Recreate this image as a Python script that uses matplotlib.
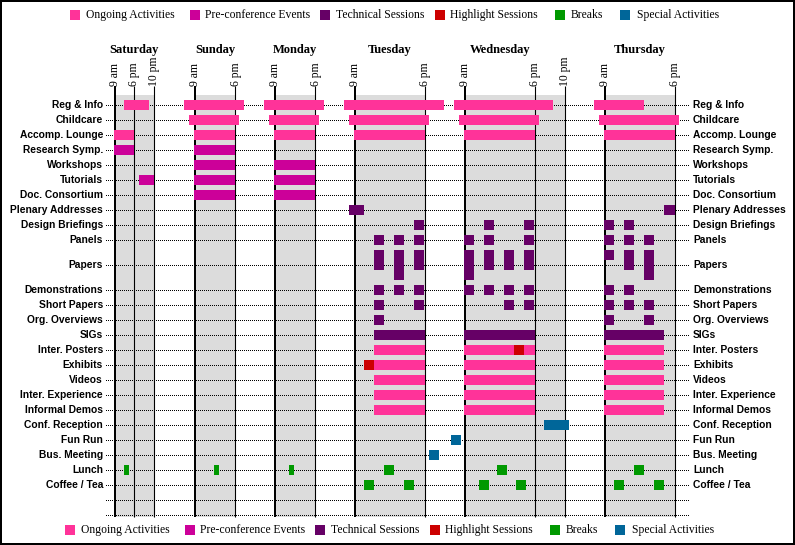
import numpy as np
import matplotlib.pyplot as plt
from matplotlib.patches import Rectangle

# days and their hour ticks
DAYS = ["Saturday", "Sunday", "Monday", "Tuesday", "Wednesday", "Thursday"]
TICK_HOURS = [[9, 18, 22], [9, 18], [9, 18], [9, 18], [9, 18, 22], [9, 18]]
TICK_LABELS = {9: "9 am", 18: "6 pm", 22: "10 pm"}
TITLE_SPAN = [(9, 22), (9, 18), (9, 18), (9, 18), (9, 18), (9, 18)]

# rows (top to bottom); the Papers row is taller
ROWS = ["Reg & Info", "Childcare", "Accomp. Lounge", "Research Symp.", "Workshops",
        "Tutorials", "Doc. Consortium", "Plenary Addresses", "Design Briefings",
        "Panels", "Papers", "Demonstrations", "Short Papers", "Org. Overviews", "SIGs",
        "Inter. Posters", "Exhibits", "Videos", "Inter. Experience", "Informal Demos",
        "Conf. Reception", "Fun Run", "Bus. Meeting", "Lunch", "Coffee / Tea", "", ""]

CATS = ["Ongoing Activities", "Pre-conference Events", "Technical Sessions",
        "Highlight Sessions", "Breaks", "Special Activities"]
COLORS = ["#ff3399", "#cc0099", "#660066", "#cc0000", "#009900", "#006699"]

# (row, day, start hour, end hour)
ongoing = [
    ("Reg & Info", "Saturday", 13.25, 21), ("Reg & Info", "Sunday", 6.5, 20),
    ("Reg & Info", "Monday", 6.5, 20), ("Reg & Info", "Tuesday", 7.6, 20.5),
    ("Reg & Info", "Wednesday", 7.6, 20.5), ("Reg & Info", "Thursday", 7.6, 14),
    ("Childcare", "Sunday", 7.65, 19), ("Childcare", "Monday", 7.65, 19),
    ("Childcare", "Tuesday", 8.2, 18.6), ("Childcare", "Wednesday", 8.2, 18.6),
    ("Childcare", "Thursday", 8.2, 18.6),
    ("Accomp. Lounge", "Saturday", 8.5, 18), ("Accomp. Lounge", "Sunday", 8.75, 18),
    ("Accomp. Lounge", "Monday", 8.75, 18), ("Accomp. Lounge", "Tuesday", 8.9, 18),
    ("Accomp. Lounge", "Wednesday", 8.9, 18), ("Accomp. Lounge", "Thursday", 8.9, 18),
]
for r in ["Inter. Posters", "Exhibits", "Videos", "Inter. Experience", "Informal Demos"]:
    ongoing += [(r, "Tuesday", 11.5, 18), (r, "Wednesday", 8.9, 18), (r, "Thursday", 8.9, 16.6)]

preconf = [
    ("Research Symp.", "Saturday", 8.5, 18), ("Research Symp.", "Sunday", 8.75, 18),
    ("Workshops", "Sunday", 8.75, 18), ("Workshops", "Monday", 8.75, 18),
    ("Tutorials", "Saturday", 19, 22), ("Tutorials", "Sunday", 8.75, 18),
    ("Tutorials", "Monday", 8.75, 18),
    ("Doc. Consortium", "Sunday", 8.75, 18), ("Doc. Consortium", "Monday", 8.75, 18),
]

technical = [
    ("Plenary Addresses", "Tuesday", 8.2, 10.2), ("Plenary Addresses", "Thursday", 16.6, 18),
    ("SIGs", "Tuesday", 11.5, 18), ("SIGs", "Wednesday", 8.9, 18), ("SIGs", "Thursday", 8.9, 16.6),
]

# session slots (start, end) and (row, day, slot)
SLOTS = [(8.9, 10.2), (11.5, 12.8), (14.0, 15.3), (16.6, 17.9)]
sessions = [
    ("Design Briefings", "Tuesday", 3), ("Design Briefings", "Wednesday", 1),
    ("Design Briefings", "Wednesday", 3), ("Design Briefings", "Thursday", 0),
    ("Design Briefings", "Thursday", 1),
    ("Panels", "Tuesday", 1), ("Panels", "Tuesday", 2), ("Panels", "Tuesday", 3),
    ("Panels", "Wednesday", 0), ("Panels", "Wednesday", 1), ("Panels", "Wednesday", 3),
    ("Panels", "Thursday", 0), ("Panels", "Thursday", 1), ("Panels", "Thursday", 2),
    ("Demonstrations", "Tuesday", 1), ("Demonstrations", "Tuesday", 2),
    ("Demonstrations", "Tuesday", 3), ("Demonstrations", "Wednesday", 0),
    ("Demonstrations", "Wednesday", 1), ("Demonstrations", "Wednesday", 2),
    ("Demonstrations", "Wednesday", 3), ("Demonstrations", "Thursday", 0),
    ("Demonstrations", "Thursday", 1),
    ("Short Papers", "Tuesday", 1), ("Short Papers", "Tuesday", 3),
    ("Short Papers", "Wednesday", 2), ("Short Papers", "Wednesday", 3),
    ("Short Papers", "Thursday", 0), ("Short Papers", "Thursday", 1),
    ("Short Papers", "Thursday", 2),
    ("Org. Overviews", "Tuesday", 1), ("Org. Overviews", "Thursday", 0),
    ("Org. Overviews", "Thursday", 2),
]
# papers: (day, slot, number of parallel tracks)
papers = [
    ("Tuesday", 1, 2), ("Tuesday", 2, 3), ("Tuesday", 3, 2),
    ("Wednesday", 0, 3), ("Wednesday", 1, 2), ("Wednesday", 2, 2), ("Wednesday", 3, 2),
    ("Thursday", 0, 1), ("Thursday", 1, 2), ("Thursday", 2, 3),
]

highlight = [("Exhibits", "Tuesday", 10.2, 11.5), ("Inter. Posters", "Wednesday", 15.3, 16.6)]

breaks = [
    ("Lunch", "Saturday", 13.25, 15.65), ("Lunch", "Sunday", 13.3, 14.4),
    ("Lunch", "Monday", 12.2, 13.3), ("Lunch", "Tuesday", 12.8, 14.1),
    ("Lunch", "Wednesday", 13.1, 14.4), ("Lunch", "Thursday", 12.8, 14.1),
    ("Coffee / Tea", "Tuesday", 10.2, 11.5), ("Coffee / Tea", "Tuesday", 15.3, 16.6),
    ("Coffee / Tea", "Wednesday", 10.8, 12.1), ("Coffee / Tea", "Wednesday", 15.6, 16.9),
    ("Coffee / Tea", "Thursday", 10.2, 11.5), ("Coffee / Tea", "Thursday", 15.3, 16.6),
]

special = [
    ("Conf. Reception", "Wednesday", 19.25, 22.6), ("Fun Run", "Wednesday", 7.2, 8.5),
    ("Bus. Meeting", "Tuesday", 18.6, 19.9),
]

# ---- layout (pixel space) ----
TICK_X = [[115, 134, 154], [195, 235], [275, 315], [355, 424.5], [465, 534.5, 564.5], [605, 674.5]]


def hx(day, h):
    d = DAYS.index(day)
    hs = np.array(TICK_HOURS[d], float)
    xs = np.array(TICK_X[d], float)
    if h < hs[0]:
        return xs[0] + (h - hs[0]) * (xs[1] - xs[0]) / (hs[1] - hs[0])
    if h > hs[-1]:
        return xs[-1] + (h - hs[-1]) * (xs[-1] - xs[-2]) / (hs[-1] - hs[-2])
    return np.interp(h, hs, xs)


row_h = np.array([35 if r == "Papers" else 15 for r in ROWS], float)
row_top = 97.5 + np.concatenate([[0], np.cumsum(row_h)[:-1]])
all_y = row_top + row_h / 2
ROW_Y = {r: all_y[i] for i, r in enumerate(ROWS) if r}

fig = plt.figure(figsize=(7.95, 5.45), dpi=100)
ax = fig.add_axes([0, 0, 1, 1])
ax.set_xlim(0, 795)
ax.set_ylim(545, 0)
ax.axis("off")

sans = "Liberation Sans"
serif = "Liberation Serif"
px = 72 / 100

# gray day areas
for d, day in enumerate(DAYS):
    x0, x1 = hx(day, TICK_HOURS[d][0]), hx(day, TICK_HOURS[d][-1])
    ax.add_patch(Rectangle((x0, 95), x1 - x0, 422, color="#dcdcdc", lw=0, zorder=0))

# dotted row guides
ax.hlines(all_y, 106, 689, colors="black", linestyles=(0, (1, 2)),
          lw=px, antialiased=False, zorder=1)

# hour lines, tick labels, day titles
for d, day in enumerate(DAYS):
    for k, h in enumerate(TICK_HOURS[d]):
        x = hx(day, h)
        ax.vlines(x, 86, 517, colors="black", lw=2 * px if k == 0 else 1.1 * px, zorder=2)
        ax.text(x + 0.5, 85.5, TICK_LABELS[h], rotation=90, ha="center", va="bottom",
                fontsize=8.4, family=serif)
    a, b = TITLE_SPAN[d]
    ax.text((hx(day, a) + hx(day, b)) / 2, 52.5, day, ha="center", va="baseline",
            fontsize=9, fontweight="bold", family=serif)


def draw(events, color):
    for row, day, s, e in events:
        x0, x1 = hx(day, s), hx(day, e)
        ax.barh(ROW_Y[row], x1 - x0, left=x0, height=10, color=color, lw=0, zorder=3)


draw(ongoing, COLORS[0])
draw(preconf, COLORS[1])
draw(technical, COLORS[2])
draw([(r, d, *SLOTS[s]) for r, d, s in sessions], COLORS[2])
for day, s, n in papers:
    x0, x1 = hx(day, SLOTS[s][0]), hx(day, SLOTS[s][1])
    top = ROW_Y["Papers"] - 15
    ax.barh(top + 5 * n, x1 - x0, left=x0, height=10 * n, color=COLORS[2], lw=0, zorder=3)
draw(highlight, COLORS[3])
draw(breaks, COLORS[4])
draw(special, COLORS[5])

# row labels both sides
for r, y in ROW_Y.items():
    ax.text(103, y, r, ha="right", va="center", fontsize=7.4, fontweight="bold", family=sans)
    ax.text(693, y, r, ha="left", va="center", fontsize=7.4, fontweight="bold", family=sans)

# legends top and bottom
LEG_X = [70, 190, 320, 435, 555, 620]
LEG_GAP = [6, 5, 6, 5, 6, 7]
for ly, shift in [(15, 0), (530, -5)]:
    for i, cat in enumerate(CATS):
        sx = LEG_X[i] + shift
        ax.add_patch(Rectangle((sx, ly - 5), 10, 10, color=COLORS[i], lw=0))
        ax.text(sx + 10 + LEG_GAP[i], ly, cat, ha="left", va="center", fontsize=8.4, family=serif)

ax.add_patch(Rectangle((1, 1), 793, 543, fill=False, ec="black", lw=2 * px, zorder=5))

fig.savefig("out.png", dpi=100)
